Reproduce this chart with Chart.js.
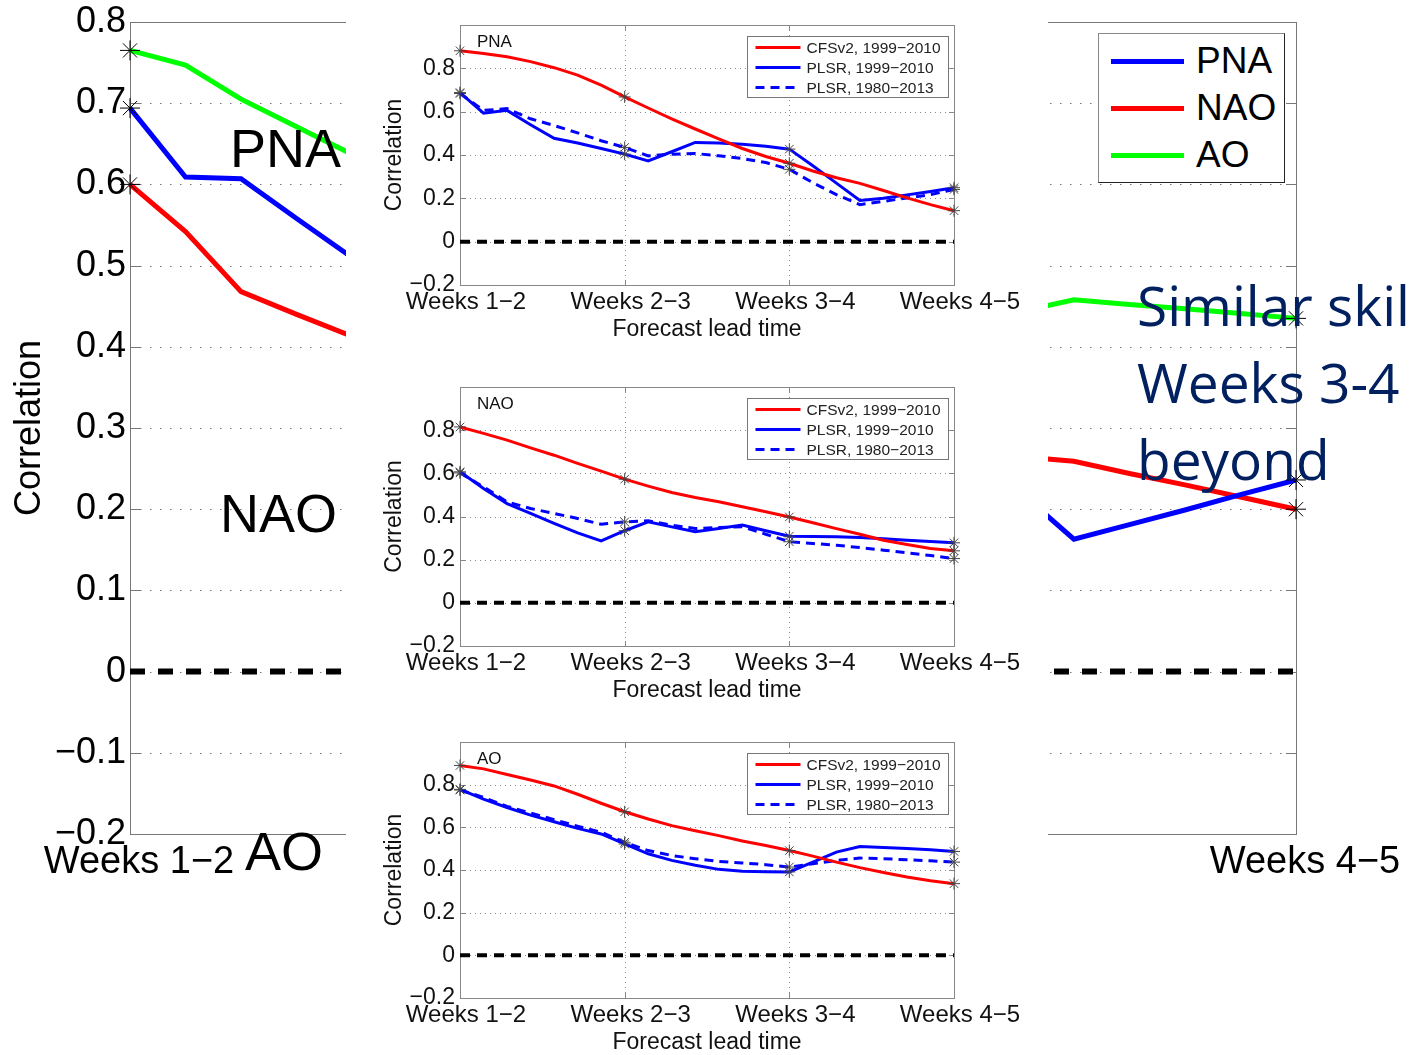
<!DOCTYPE html>
<html>
<head>
<meta charset="utf-8">
<script src="https://cdn.jsdelivr.net/npm/chart.js@4.4.1/dist/chart.umd.min.js"></script>
<style>
  html, body { margin: 0; padding: 0; background: #fff; }
  body { width: 1410px; height: 1055px; position: relative; overflow: hidden;
         font-family: "Liberation Sans", Arial, sans-serif; }
  #mainChart { position: absolute; left: 0; top: 0; }
  #panel { position: absolute; left: 346px; top: 0; width: 702px; height: 1055px; background: #fff; z-index: 1; }
  #panel canvas { position: absolute; left: 0; }
  .big { position: absolute; font-size: 54px; line-height: 54px; color: #000; z-index: 2; white-space: nowrap; }
  #note { position: absolute; left: 1137px; top: 266px; z-index: 2; white-space: nowrap;
          font-family: "Open Sans", "Noto Sans", sans-serif; font-size: 55px; line-height: 77px; color: #002060; }
  #key { position: absolute; left: 1098px; top: 33px; width: 187px; height: 150px; box-sizing: border-box;
         background: #fff; border-style: solid; border-width: 1px 1.5px 1.5px 1px;
         border-color: #888 #222 #222 #888; z-index: 2; }
  #key .row { position: absolute; left: 0; height: 44px; line-height: 44px; font-size: 37px; }
  #key .swatch { position: absolute; left: 12px; top: 20px; width: 73px; height: 5px; }
  #key .name { position: absolute; left: 97px; top: 0; }
</style>
</head>
<body>
<canvas id="mainChart" width="1410" height="1055"></canvas>
<div id="panel">
  <canvas id="insetPNA" width="702" height="345" style="top:0px"></canvas>
  <canvas id="insetNAO" width="702" height="344" style="top:362px"></canvas>
  <canvas id="insetAO" width="702" height="341" style="top:717px"></canvas>
</div>
<div class="big" style="left:230px; top:121px">PNA</div>
<div class="big" style="left:220px; top:486px">NAO</div>
<div class="big" style="left:245px; top:824px">AO</div>
<div id="note">Similar skill<br>Weeks 3-4<br>beyond</div>
<div id="key"></div>

<script>
// lead time in days after the start of Weeks 1-2 (7 steps per label)
const leadSteps = [0, 1, 2, 3, 4, 5, 6, 7, 8, 9, 10, 11, 12, 13, 14, 15, 16, 17, 18, 19, 20, 21];
const weekLabels = ['Weeks 1\u22122', 'Weeks 2\u22123', 'Weeks 3\u22124', 'Weeks 4\u22125'];
const zeroLevel = 0;

// big chart: middle part is hidden under the inset panel
const mainNames = ['PNA', 'NAO', 'AO'];
const mainPNA = [0.694, 0.609, 0.607, 0.558, 0.510, null, null, null, null, null, null, null, null, null, null, null, 0.223, 0.163, 0.181, 0.199, 0.218, 0.236];
const mainNAO = [0.600, 0.542, 0.468, 0.440, 0.413, null, null, null, null, null, null, null, null, null, null, null, 0.265, 0.259, 0.244, 0.230, 0.215, 0.200];
const mainAO  = [0.765, 0.747, 0.705, 0.671, 0.637, null, null, null, null, null, null, null, null, null, null, null, 0.443, 0.458, 0.452, 0.447, 0.441, 0.435];

// insets
const insetSeries = ['CFSv2, 1999\u22122010', 'PLSR, 1999\u22122010', 'PLSR, 1980\u22122013'];
const cfsPNA      = [0.881, 0.868, 0.853, 0.831, 0.803, 0.769, 0.722, 0.668, 0.617, 0.567, 0.520, 0.474, 0.430, 0.393, 0.362, 0.326, 0.295, 0.269, 0.236, 0.202, 0.171, 0.143];
const plsrPNA     = [0.688, 0.593, 0.606, 0.540, 0.477, 0.455, 0.430, 0.404, 0.373, 0.415, 0.458, 0.455, 0.450, 0.440, 0.427, 0.350, 0.270, 0.190, 0.200, 0.216, 0.232, 0.249];
const plsrLongPNA = [0.684, 0.606, 0.614, 0.567, 0.536, 0.502, 0.466, 0.435, 0.396, 0.404, 0.407, 0.396, 0.384, 0.365, 0.334, 0.272, 0.217, 0.171, 0.186, 0.202, 0.217, 0.241];
const cfsNAO      = [0.815, 0.785, 0.754, 0.718, 0.684, 0.646, 0.610, 0.573, 0.541, 0.511, 0.488, 0.468, 0.445, 0.422, 0.398, 0.371, 0.344, 0.318, 0.290, 0.270, 0.252, 0.241];
const plsrNAO     = [0.607, 0.530, 0.460, 0.414, 0.368, 0.324, 0.287, 0.334, 0.375, 0.352, 0.329, 0.344, 0.360, 0.334, 0.309, 0.307, 0.306, 0.303, 0.297, 0.290, 0.284, 0.278];
const plsrLongNAO = [0.602, 0.537, 0.468, 0.437, 0.414, 0.391, 0.364, 0.375, 0.380, 0.360, 0.344, 0.349, 0.352, 0.318, 0.283, 0.275, 0.267, 0.256, 0.244, 0.232, 0.219, 0.205];
const cfsAO       = [0.890, 0.874, 0.848, 0.822, 0.794, 0.755, 0.713, 0.673, 0.639, 0.608, 0.584, 0.561, 0.536, 0.515, 0.491, 0.465, 0.437, 0.411, 0.388, 0.367, 0.350, 0.336];
const plsrAO      = [0.778, 0.732, 0.693, 0.657, 0.626, 0.595, 0.569, 0.522, 0.476, 0.445, 0.422, 0.403, 0.394, 0.392, 0.391, 0.437, 0.484, 0.510, 0.505, 0.501, 0.495, 0.487];
const plsrLongAO  = [0.775, 0.740, 0.698, 0.667, 0.636, 0.605, 0.577, 0.530, 0.491, 0.468, 0.453, 0.440, 0.433, 0.425, 0.414, 0.429, 0.445, 0.456, 0.453, 0.448, 0.443, 0.437];

Chart.defaults.font.family = '"Liberation Sans", Arial, sans-serif';
Chart.defaults.color = '#000';

function series(vals) {
  return leadSteps.map((s, i) => ({ x: s, y: vals[i] }));
}

function zeroData() {
  return [{ x: leadSteps[0], y: zeroLevel }, { x: leadSteps[leadSteps.length - 1], y: zeroLevel }];
}

function fmtTick(v) {
  if (Math.abs(v) < 1e-9) return '0';
  return v.toFixed(1).replace('-', '\u2212');
}

// matlab style box: dotted grid, inward ticks, frame
const matlabAxes = {
  id: 'matlabAxes',
  beforeDatasetsDraw(chart, args, opts) {
    const { ctx, chartArea: a, scales: { x, y } } = chart;
    ctx.save();
    ctx.lineWidth = 1;
    ctx.strokeStyle = opts.gridColor;
    ctx.setLineDash(opts.dash);
    y.ticks.forEach(t => {
      const py = Math.round(y.getPixelForValue(t.value)) + 0.5;
      if (py <= a.top + 2 || py >= a.bottom - 2) return;
      ctx.beginPath(); ctx.moveTo(a.left, py); ctx.lineTo(a.right, py); ctx.stroke();
    });
    if (opts.vgrid) {
      x.ticks.forEach(t => {
        const px = Math.round(x.getPixelForValue(t.value)) + 0.5;
        if (px <= a.left + 2 || px >= a.right - 2) return;
        ctx.beginPath(); ctx.moveTo(px, a.top); ctx.lineTo(px, a.bottom); ctx.stroke();
      });
    }
    ctx.setLineDash([]);
    ctx.strokeStyle = opts.boxColor;
    const len = opts.tickLen;
    y.ticks.forEach(t => {
      const py = Math.round(y.getPixelForValue(t.value)) + 0.5;
      ctx.beginPath();
      ctx.moveTo(a.left, py); ctx.lineTo(a.left + len, py);
      ctx.moveTo(a.right - len, py); ctx.lineTo(a.right, py);
      ctx.stroke();
    });
    x.ticks.forEach(t => {
      const px = Math.round(x.getPixelForValue(t.value)) + 0.5;
      ctx.beginPath();
      ctx.moveTo(px, a.bottom); ctx.lineTo(px, a.bottom - len);
      ctx.moveTo(px, a.top); ctx.lineTo(px, a.top + len);
      ctx.stroke();
    });
    ctx.strokeRect(Math.round(a.left) + 0.5, Math.round(a.top) + 0.5, Math.round(a.right - a.left), Math.round(a.bottom - a.top));
    ctx.restore();
  }
};

// inset name and legend box
const insetKey = {
  id: 'insetKey',
  afterDraw(chart, args, opts) {
    if (!opts.name) return;
    const { ctx, chartArea: a } = chart;
    ctx.save();
    ctx.fillStyle = '#111';
    ctx.textBaseline = 'middle';
    ctx.font = '17px "Liberation Sans", Arial, sans-serif';
    ctx.fillText(opts.name, a.left + 17, a.top + 17);

    const bx = Math.round(a.left + 287) + 0.5, by = Math.round(a.top + 11) + 0.5;
    ctx.fillStyle = '#fff';
    ctx.fillRect(bx, by, 201, 61);
    ctx.strokeStyle = '#777';
    ctx.lineWidth = 1;
    ctx.strokeRect(bx, by, 201, 61);
    ctx.font = '15.5px "Liberation Sans", Arial, sans-serif';
    chart.data.datasets.filter(d => d.label).forEach((d, i) => {
      const ly = by + 11 + i * 20;
      ctx.strokeStyle = d.borderColor;
      ctx.lineWidth = 3;
      ctx.setLineDash(d.borderDash || []);
      ctx.beginPath(); ctx.moveTo(bx + 8, ly); ctx.lineTo(bx + 53, ly); ctx.stroke();
      ctx.setLineDash([]);
      ctx.fillStyle = '#222';
      ctx.fillText(d.label, bx + 59, ly + 1);
    });
    ctx.restore();
  }
};

function mainLine(label, vals, color) {
  return {
    label: label,
    data: series(vals),
    borderColor: color,
    borderWidth: 5,
    spanGaps: true,
    tension: 0,
    clip: false,
    pointStyle: 'star',
    pointRadius: c => (c.dataIndex === 0 || c.dataIndex === leadSteps.length - 1) ? 10 : 0,
    pointBorderColor: '#000',
    pointBorderWidth: 1,
    pointBackgroundColor: 'transparent'
  };
}

new Chart(document.getElementById('mainChart'), {
  type: 'line',
  data: {
    datasets: [
      mainLine(mainNames[0], mainPNA, '#0000ff'),
      mainLine(mainNames[1], mainNAO, '#ff0000'),
      mainLine(mainNames[2], mainAO, '#00ff00'),
      { label: '', data: zeroData(), borderColor: '#000', borderWidth: 6, borderDash: [15, 13], pointRadius: 0 }
    ]
  },
  options: {
    responsive: false,
    animation: false,
    events: [],
    layout: { padding: { top: 20, right: 114, bottom: 0, left: 0 } },
    plugins: {
      legend: { display: false },
      tooltip: { enabled: false },
      matlabAxes: { gridColor: '#777', dash: [1.5, 8.5], boxColor: '#777', tickLen: 10, vgrid: false }
    },
    scales: {
      x: {
        type: 'linear', min: 0, max: 21,
        grid: { display: false, drawTicks: false },
        border: { display: false },
        ticks: { stepSize: 7, autoSkip: false, maxRotation: 0, padding: 6, labelOffset: 9, font: { size: 38 },
                 callback: v => weekLabels[v / 7] || '' },
        afterFit: s => { s.height = 221; }
      },
      y: {
        min: -0.2, max: 0.8,
        grid: { display: false, drawTicks: false },
        border: { display: false },
        ticks: { stepSize: 0.1, padding: 4, font: { size: 36, lineHeight: 1 }, callback: fmtTick },
        title: { display: true, text: 'Correlation', font: { size: 36 }, padding: { top: 8, bottom: 0 } },
        afterFit: s => { s.width = 130; }
      }
    }
  },
  plugins: [matlabAxes]
});

function insetLine(label, vals, color, dash) {
  return {
    label: label,
    data: series(vals),
    borderColor: color,
    borderWidth: 3,
    borderDash: dash,
    tension: 0,
    clip: false,
    pointStyle: 'star',
    pointRadius: c => (c.dataIndex % 7 === 0) ? 6 : 0,
    pointBorderColor: '#444',
    pointBorderWidth: 1,
    pointBackgroundColor: 'transparent'
  };
}

function makeInset(id, name, cfs, plsr, plsrLong) {
  new Chart(document.getElementById(id), {
    type: 'line',
    data: {
      datasets: [
        insetLine(insetSeries[0], cfs, '#ff0000', []),
        insetLine(insetSeries[1], plsr, '#0000ff', []),
        insetLine(insetSeries[2], plsrLong, '#0000ff', [9, 6]),
        { label: '', data: zeroData(), borderColor: '#000', borderWidth: 4, borderDash: [10, 7], pointRadius: 0 }
      ]
    },
    options: {
      responsive: false,
      animation: false,
      events: [],
      layout: { padding: { top: 25, right: 94, bottom: 2, left: 35 } },
      plugins: {
        legend: { display: false },
        tooltip: { enabled: false },
        matlabAxes: { gridColor: '#888', dash: [1, 4], boxColor: '#888', tickLen: 5, vgrid: true },
        insetKey: { name: name }
      },
      scales: {
        x: {
          type: 'linear', min: 0, max: 21,
          grid: { display: false, drawTicks: false },
          border: { display: false },
          ticks: { stepSize: 7, autoSkip: false, maxRotation: 0, padding: 3, labelOffset: 6, font: { size: 24 }, color: '#111',
                   callback: v => weekLabels[v / 7] || '' },
          title: { display: true, text: 'Forecast lead time', font: { size: 23 }, color: '#111', padding: { top: 0, bottom: 0 } },
          afterFit: s => { s.height = 58; }
        },
        y: {
          min: -0.2, max: 1.0,
          grid: { display: false, drawTicks: false },
          border: { display: false },
          ticks: { stepSize: 0.2, padding: 5, font: { size: 23, lineHeight: 1 }, color: '#111',
                   callback: v => (Math.abs(v - 1) < 1e-9 ? '' : fmtTick(v)) },
          title: { display: true, text: 'Correlation', font: { size: 23 }, color: '#111', padding: { top: 0, bottom: 0 } },
          afterFit: s => { s.width = 79; }
        }
      }
    },
    plugins: [matlabAxes, insetKey]
  });
}

makeInset('insetPNA', 'PNA', cfsPNA, plsrPNA, plsrLongPNA);
makeInset('insetNAO', 'NAO', cfsNAO, plsrNAO, plsrLongNAO);
makeInset('insetAO', 'AO', cfsAO, plsrAO, plsrLongAO);

// legend of the big chart
const key = document.getElementById('key');
const keyColors = ['#0000ff', '#ff0000', '#00ff00'];
mainNames.forEach((n, i) => {
  const row = document.createElement('div');
  row.className = 'row';
  row.style.top = (5 + i * 47) + 'px';
  row.innerHTML = '<span class="swatch" style="background:' + keyColors[i] + '"></span><span class="name">' + n + '</span>';
  key.appendChild(row);
});
</script>
</body>
</html>
